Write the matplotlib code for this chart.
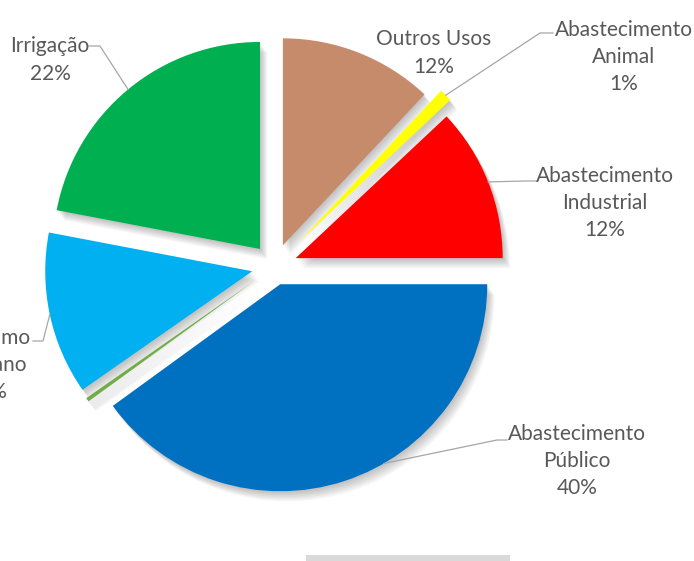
import numpy as np
import matplotlib.pyplot as plt
from matplotlib.patches import Wedge, Rectangle

# Dados (uso da água)
categorias = ['Outros Usos', 'Abastecimento\nAnimal', 'Abastecimento\nIndustrial',
              'Abastecimento\nPúblico', '', 'Consumo\nHumano', 'Irrigação']
valores = [12.0, 1.0, 12.0, 40.0, 0.3, 12.7, 22.0]
percentuais = ['12%', '1%', '12%', '40%', '', '13%', '22%']
cores = ['#C58B6B', '#FFFF00', '#FF0000', '#0070C0', '#70AD47', '#00B0F0', '#00B050']
explosao = [0.11, 0.17, 0.11, 0.09, 0.11, 0.11, 0.11]

W, H = 694, 561
CX, CY, R = 274.5, 266.5, 207.0


def px(x, y):
    # pixel da imagem -> coordenadas do eixo (raio = 1)
    return (x - CX) / R, (CY - y) / R


fig = plt.figure(figsize=(W / 100, H / 100), dpi=100)
ax = fig.add_axes([0, 0, 1, 1])

fatias, _ = ax.pie(valores, colors=cores, startangle=90, counterclock=False,
                   explode=explosao, radius=1, center=(0, 0),
                   wedgeprops=dict(linewidth=0))

# sombra suave embaixo/direita de cada fatia
for w in fatias:
    c = np.array(w.center)
    for k in range(1, 8):
        s = Wedge((c[0] + 0.005 * k, c[1] - 0.007 * k), w.r, w.theta1, w.theta2,
                  facecolor='black', alpha=0.035, linewidth=0, zorder=0.5)
        ax.add_patch(s)
    w.set_zorder(1)

ax.set_xlim(-CX / R, (W - CX) / R)
ax.set_ylim(-(H - CY) / R, CY / R)
ax.set_aspect('equal')
ax.axis('off')

# rótulos: posição do texto (px), ponta da linha, cotovelo, ângulo da âncora
rotulos = {
    0: dict(pos=(434, 53)),
    1: dict(pos=(624, 57), linha=[(553, 33), (540, 33)]),
    2: dict(pos=(605, 203), linha=[(536, 181), (526, 181)]),
    3: dict(pos=(577, 461), linha=[(507, 440), (497, 440)], ang=-60),
    5: dict(pos=(-13, 365), linha=[(33, 341), (43, 341)]),
    6: dict(pos=(50, 60), linha=[(89, 46), (100, 46)]),
}

fonte = dict(family=['Lato', 'DejaVu Sans'], fontsize=15, color='#595959')

for i, cfg in rotulos.items():
    tx, ty = px(*cfg['pos'])
    ax.text(tx, ty, categorias[i] + '\n' + percentuais[i], ha='center', va='center',
            linespacing=1.45, zorder=3, **fonte)
    if 'linha' in cfg:
        w = fatias[i]
        ang = np.radians(cfg.get('ang', (w.theta1 + w.theta2) / 2))
        ancora = (w.center[0] + w.r * np.cos(ang), w.center[1] + w.r * np.sin(ang))
        pts = [px(*p) for p in cfg['linha']] + [ancora]
        ax.plot([p[0] for p in pts], [p[1] for p in pts], color='#A6A6A6',
                linewidth=0.9, zorder=2)

# barra cinza no rodapé
fig.patches.append(Rectangle((306 / W, 0), 204 / W, 6 / H, transform=fig.transFigure,
                             facecolor='#D9D9D9', edgecolor='none'))

fig.savefig('out.png', dpi=100)
